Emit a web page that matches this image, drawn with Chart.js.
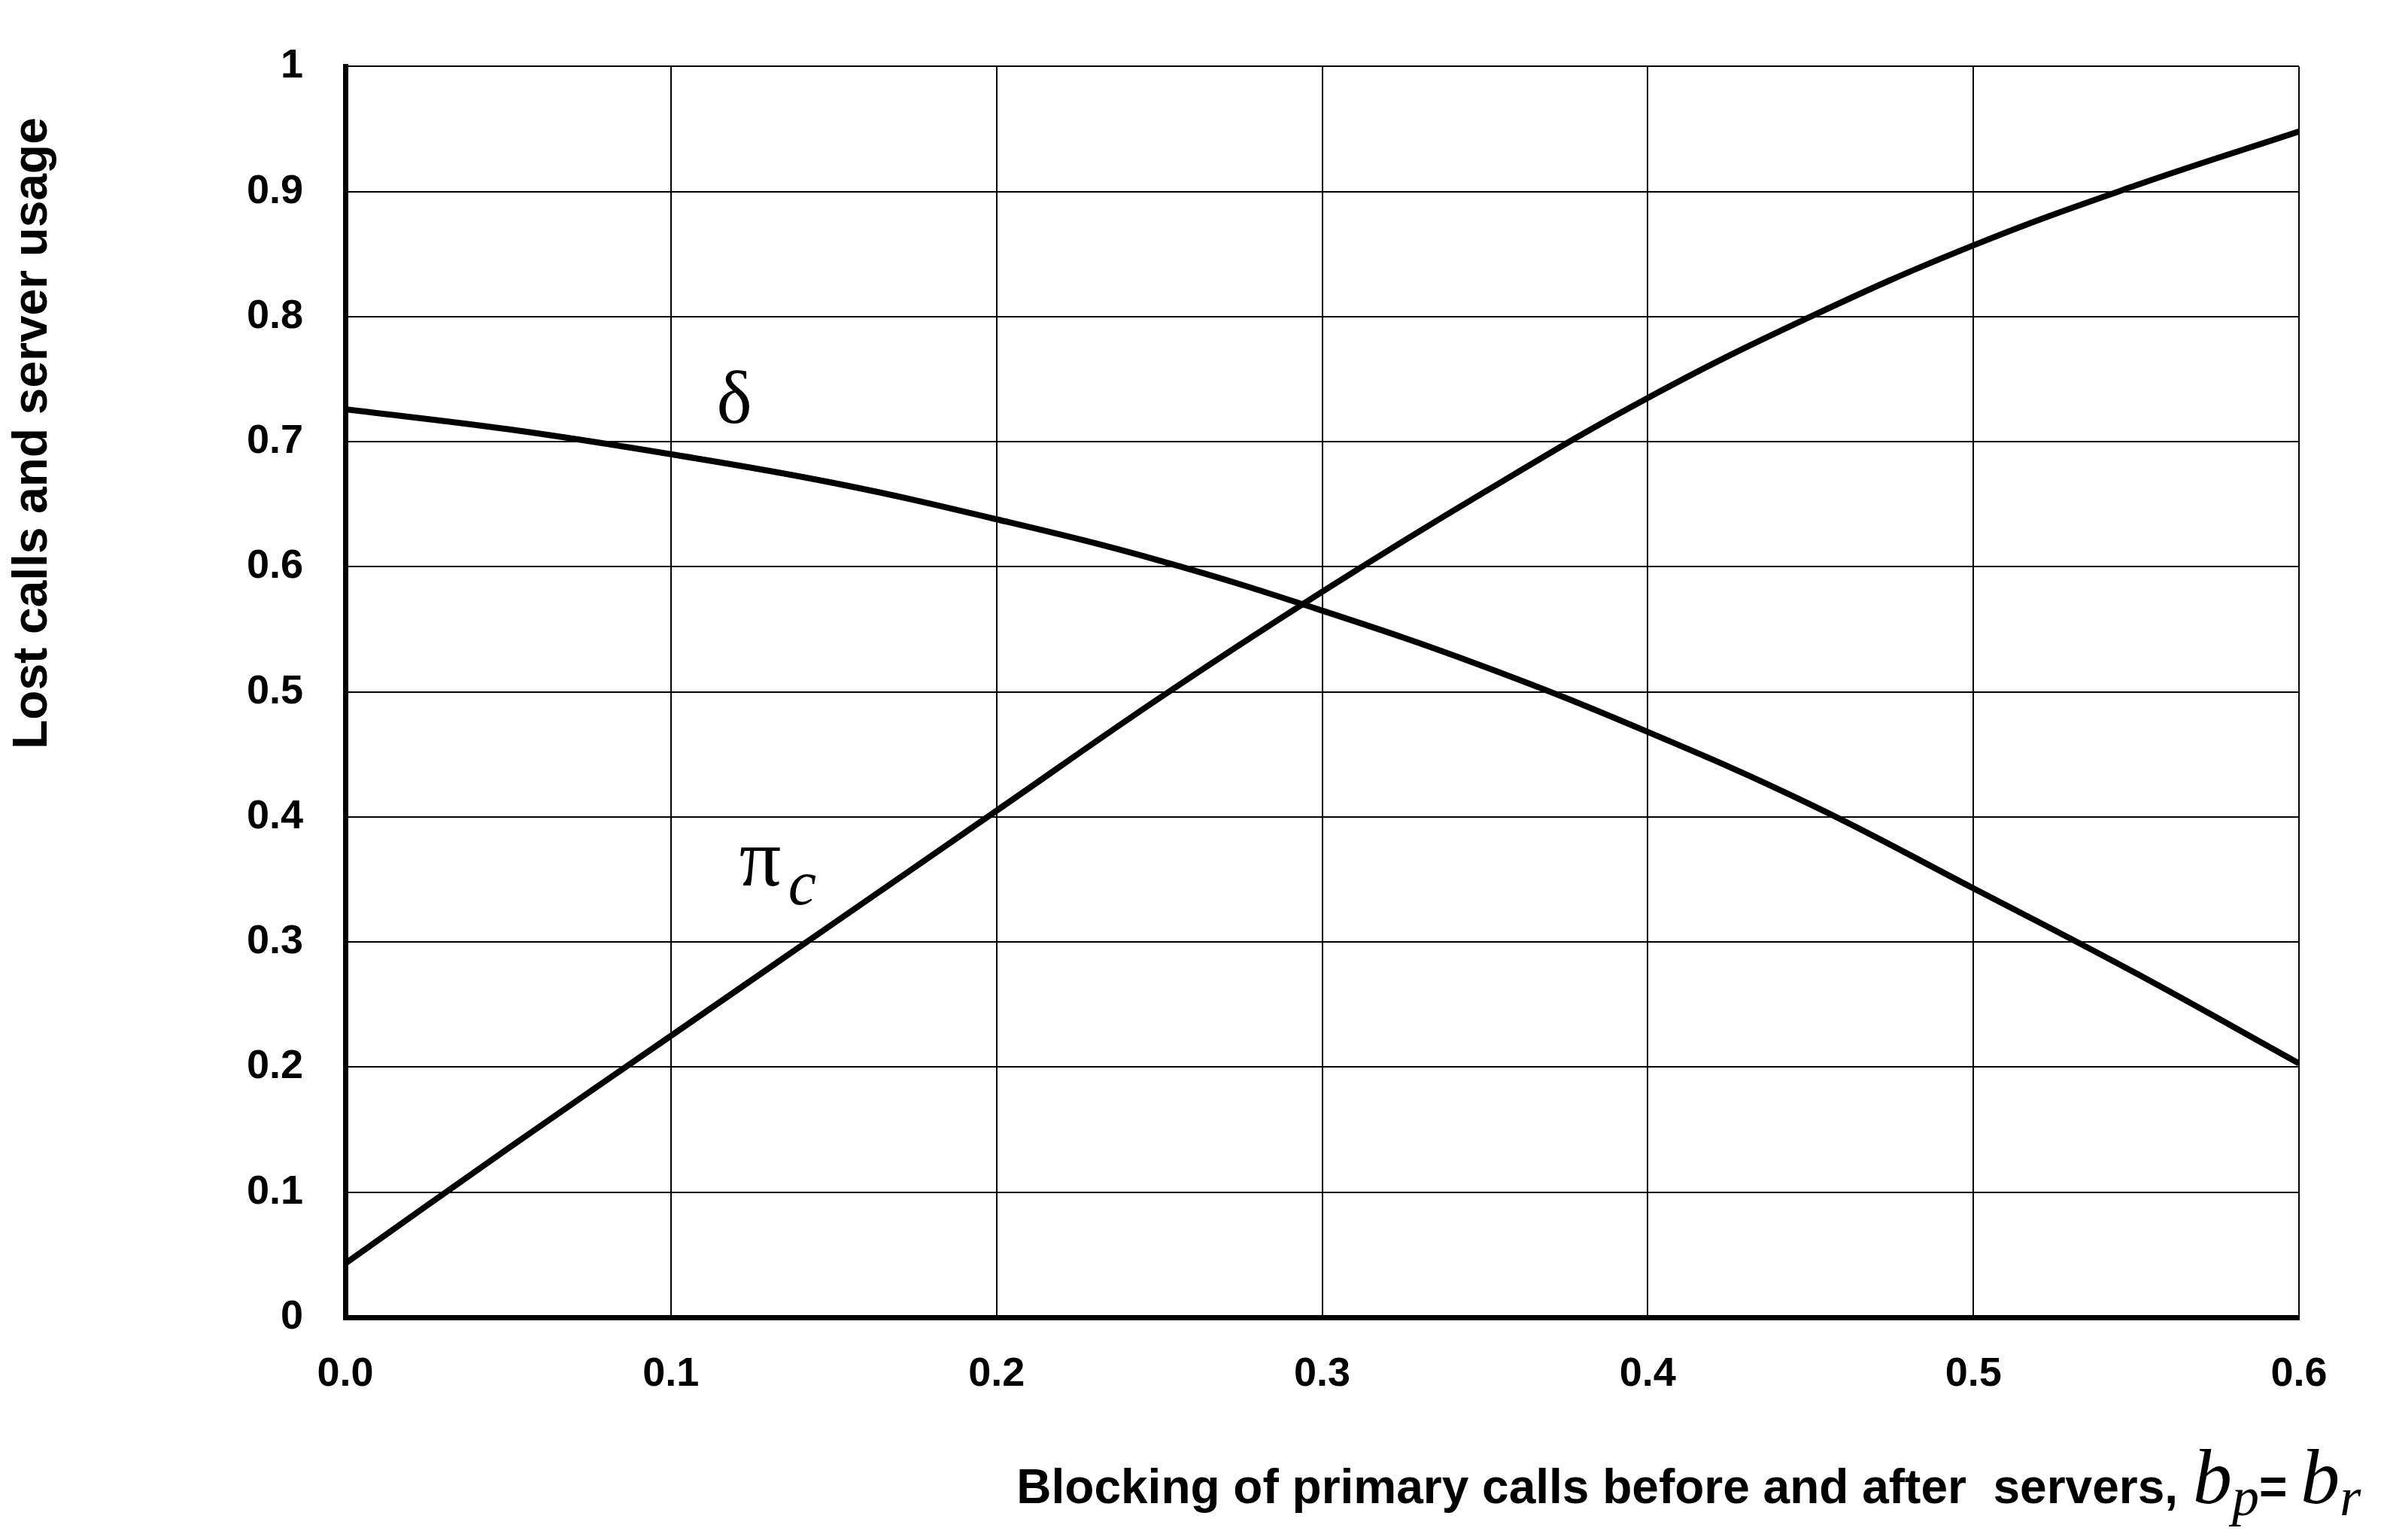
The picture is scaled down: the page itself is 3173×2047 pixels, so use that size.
<!DOCTYPE html>
<html>
<head>
<meta charset="utf-8">
<script src="https://cdn.jsdelivr.net/npm/chart.js@4.4.0/dist/chart.umd.min.js"></script>
<style>
  html, body { margin: 0; padding: 0; background: #fff; }
  #wrap { width: 3173px; height: 2047px; }
</style>
</head>
<body>
<div id="wrap"><canvas id="myChart" width="3173" height="2047"></canvas></div>
<script>
// values
const blocking = [0, 0.05, 0.1, 0.15, 0.2, 0.25, 0.3, 0.35, 0.4, 0.45, 0.5, 0.55, 0.6];
const piC   = [0.043, 0.135, 0.225, 0.315, 0.405, 0.495, 0.58, 0.66, 0.735, 0.80, 0.857, 0.905, 0.948];
const delta = [0.726, 0.71, 0.69, 0.667, 0.638, 0.605, 0.565, 0.52, 0.468, 0.41, 0.343, 0.275, 0.203];

const toPoints = ys => blocking.map((x, i) => ({ x: x, y: ys[i] }));

const tickFont = { family: 'Liberation Sans, Arial', size: 54, weight: 'bold' };

// curve labels and axis titles
const textPlugin = {
    id: 'texts',
    afterDraw(chart) {
        const ctx = chart.ctx;
        const xs = chart.scales.x, ys = chart.scales.y;
        ctx.save();
        ctx.fillStyle = '#000';
        ctx.textBaseline = 'alphabetic';

        ctx.font = '100px "Liberation Serif", "DejaVu Serif", serif';
        ctx.textAlign = 'left';
        ctx.fillText('δ', xs.getPixelForValue(0.114), ys.getPixelForValue(0.715));
        ctx.font = '110px "Liberation Serif", "DejaVu Serif", serif';
        ctx.fillText('π', xs.getPixelForValue(0.121), ys.getPixelForValue(0.345));
        ctx.font = 'italic 84px "Liberation Serif", serif';
        ctx.fillText('c', xs.getPixelForValue(0.136), ys.getPixelForValue(0.33));

        // y title
        ctx.save();
        ctx.translate(62, 576);
        ctx.rotate(-Math.PI / 2);
        ctx.textAlign = 'center';
        ctx.font = 'bold 64px "Liberation Sans", Arial';
        ctx.fillText('Lost calls and server usage', 0, 0);
        ctx.restore();

        // x title
        const yT = 1998;
        ctx.textAlign = 'right';
        ctx.font = 'bold 64px "Liberation Sans", Arial';
        ctx.fillText('Blocking of primary calls before and after  servers,', 2895, yT);
        ctx.textAlign = 'left';
        let x = 2915;
        ctx.font = 'italic 104px "Liberation Serif", serif';
        ctx.fillText('b', x, yT); x += ctx.measureText('b').width;
        ctx.font = 'italic 72px "Liberation Serif", serif';
        ctx.fillText('p', x, yT + 16); x += ctx.measureText('p').width;
        ctx.font = 'bold 64px "Liberation Sans", Arial';
        ctx.fillText('=', x, yT); x += ctx.measureText('= ').width;
        ctx.font = 'italic 104px "Liberation Serif", serif';
        ctx.fillText('b', x, yT); x += ctx.measureText('b').width;
        ctx.font = 'italic 72px "Liberation Serif", serif';
        ctx.fillText('r', x, yT + 16);
        ctx.restore();
    }
};

const ctx = document.getElementById('myChart').getContext('2d');
const myChart = new Chart(ctx, {
    type: 'line',
    data: {
        datasets: [
            { label: 'pi_c', data: toPoints(piC), borderColor: '#000', borderWidth: 8, pointRadius: 0, tension: 0.4, fill: false },
            { label: 'delta', data: toPoints(delta), borderColor: '#000', borderWidth: 8, pointRadius: 0, tension: 0.4, fill: false }
        ]
    },
    options: {
        responsive: false,
        animation: false,
        devicePixelRatio: 1,
        layout: { padding: { left: 0, right: 117, top: 57, bottom: 0 } },
        plugins: { legend: { display: false }, tooltip: { enabled: false } },
        scales: {
            x: {
                type: 'linear', min: 0, max: 0.6,
                afterFit: s => { s.height = 296; },
                ticks: { stepSize: 0.1, color: '#000', font: tickFont, padding: 44, callback: v => v.toFixed(1) },
                grid: { color: '#000', lineWidth: 2, drawTicks: false },
                border: { color: '#000', width: 7 }
            },
            y: {
                min: 0, max: 1,
                afterFit: s => { s.width = 459; },
                ticks: { stepSize: 0.1, color: '#000', font: tickFont, padding: 56,
                         callback: v => (v === 0 || v === 1) ? String(v) : v.toFixed(1) },
                grid: { color: '#000', lineWidth: 2, drawTicks: false },
                border: { color: '#000', width: 7 }
            }
        }
    },
    plugins: [textPlugin]
});
</script>
</body>
</html>
